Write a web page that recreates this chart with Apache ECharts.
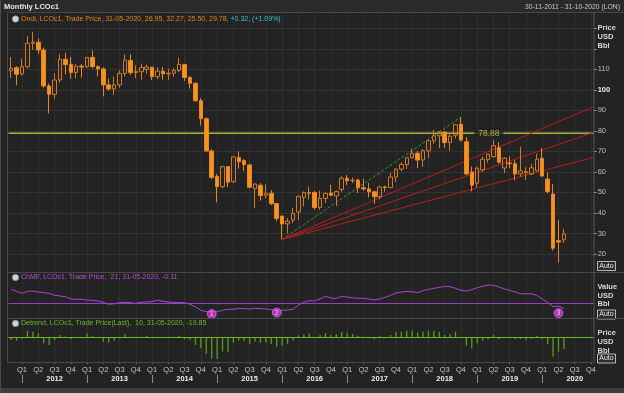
<!DOCTYPE html>
<html><head><meta charset="utf-8">
<script src="https://cdn.jsdelivr.net/npm/echarts@6/dist/echarts.min.js"></script>
<style>html,body{margin:0;padding:0;background:#232323;}#c{width:624px;height:393px;}</style>
</head><body><div id="c"></div>
<script>
// ---------- categories (monthly) ----------
const months = [
'2011-11','2011-12',
'2012-01','2012-02','2012-03','2012-04','2012-05','2012-06','2012-07','2012-08','2012-09','2012-10','2012-11','2012-12',
'2013-01','2013-02','2013-03','2013-04','2013-05','2013-06','2013-07','2013-08','2013-09','2013-10','2013-11','2013-12',
'2014-01','2014-02','2014-03','2014-04','2014-05','2014-06','2014-07','2014-08','2014-09','2014-10','2014-11','2014-12',
'2015-01','2015-02','2015-03','2015-04','2015-05','2015-06','2015-07','2015-08','2015-09','2015-10','2015-11','2015-12',
'2016-01','2016-02','2016-03','2016-04','2016-05','2016-06','2016-07','2016-08','2016-09','2016-10','2016-11','2016-12',
'2017-01','2017-02','2017-03','2017-04','2017-05','2017-06','2017-07','2017-08','2017-09','2017-10','2017-11','2017-12',
'2018-01','2018-02','2018-03','2018-04','2018-05','2018-06','2018-07','2018-08','2018-09','2018-10','2018-11','2018-12',
'2019-01','2019-02','2019-03','2019-04','2019-05','2019-06','2019-07','2019-08','2019-09','2019-10','2019-11','2019-12',
'2020-01','2020-02','2020-03','2020-04','2020-05','2020-06','2020-07','2020-08','2020-09','2020-10'];

// ---------- price OHLC (USD/bbl) ----------
const opens = [109.3,110.8,107.8,111.3,122.7,123.2,119.4,101.9,97.8,104.8,
114.9,112.4,108.5,111.6,111.3,115.8,111.3,110.2,102.4,100.4,
102.4,108.0,114.3,108.4,108.8,110.0,111.0,106.4,109.1,107.8,
108.1,109.4,112.4,106.0,103.2,94.7,85.9,70.2,57.8,52.8,
62.6,55.2,67.0,65.5,63.4,51.8,53.5,48.6,49.6,44.6,
38.5,34.7,36.5,40.5,47.6,49.4,50.0,42.7,47.1,49.7,
48.3,51.5,56.9,55.7,56.0,52.3,51.7,50.3,47.9,52.7,
52.4,57.5,61.4,63.6,66.9,69.1,65.8,70.3,75.2,77.6,
79.4,74.3,77.9,83.2,74.7,60.0,54.5,61.0,66.0,67.4,
71.8,61.9,64.3,64.0,59.0,59.5,59.0,60.5,66.6,56.5,
49.2,26.5,26.95];
const closes = [110.5,107.6,111.3,122.7,123.2,119.4,101.9,97.8,104.8,114.9,
112.3,108.5,111.6,111.1,115.8,111.3,110.2,102.4,100.4,102.4,
108.0,114.5,108.4,109.0,110.9,111.1,106.4,109.1,107.8,108.1,
109.4,112.4,106.0,103.2,94.7,85.9,70.2,57.3,52.8,62.5,
55.0,67.3,65.0,63.6,52.5,54.1,48.4,49.6,44.5,37.3,
34.6,36.0,39.7,48.1,49.9,50.0,42.6,47.1,49.5,48.6,
50.5,56.9,55.7,55.9,52.3,51.7,50.3,47.9,52.7,52.4,
57.5,61.4,63.6,66.9,69.1,65.8,70.3,75.2,77.6,79.4,
74.3,77.4,83.0,75.5,59.0,53.5,61.8,66.2,68.6,72.8,
64.7,66.7,64.0,59.0,60.5,60.2,62.0,66.2,58.0,50.4,
22.8,25.8,29.78];
const lows = [105.8,102.2,107.0,110.5,119.5,117.5,101.0,88.5,95.5,103.5,
107.5,105.5,105.6,106.0,110.5,110.5,106.5,96.8,99.5,97.5,
101.0,106.5,107.2,105.7,104.9,107.8,104.7,105.2,104.9,104.9,
106.4,108.6,104.3,100.6,94.2,82.6,69.8,56.5,45.2,52.0,
52.5,54.6,61.6,60.5,52.1,42.3,46.0,47.2,43.8,36.0,
27.1,30.0,35.0,36.6,43.1,46.6,41.6,41.5,44.9,48.3,
43.3,50.3,53.6,54.6,49.7,50.8,47.6,44.4,46.6,50.4,
52.1,55.1,60.3,61.4,66.6,61.8,62.5,66.8,73.7,71.6,
71.8,70.3,76.3,74.8,58.4,50.5,52.5,60.0,64.5,67.0,
64.0,59.5,61.8,55.9,57.7,56.2,58.5,60.2,57.7,49.5,
21.7,15.8,25.50];
const highs = [116.0,111.5,115.2,126.2,128.3,125.0,120.5,103.0,108.0,117.5,
118.0,116.0,112.5,112.5,116.0,119.2,111.8,111.0,105.5,106.5,
109.5,117.3,117.3,112.0,112.8,112.4,111.2,111.0,111.1,110.3,
110.6,115.7,112.6,106.8,103.5,95.9,86.6,71.0,59.0,63.0,
62.8,67.8,70.0,66.2,63.8,54.5,54.5,54.0,51.1,44.8,
38.8,37.5,42.5,48.5,50.5,52.9,50.5,50.9,49.9,53.7,
50.9,57.9,58.4,57.3,56.7,56.7,54.7,50.7,52.9,53.2,
59.5,61.7,64.7,67.3,71.3,70.2,71.1,75.5,80.5,79.9,
79.8,78.3,83.2,86.7,76.9,62.6,62.5,67.4,68.7,75.6,
74.5,67.0,67.6,65.7,72.3,62.3,64.0,68.9,71.6,59.8,
54.0,36.6,32.27];

// ---------- Chaikin Money Flow (21) ----------
const cmf = [0.286,0.245,0.204,0.245,0.251,0.231,0.217,0.204,0.163,0.149,
0.135,0.088,0.082,0.082,0.067,0.061,0.047,0.020,-0.020,-0.008,
0.012,0.020,0.014,0.000,0.020,0.027,0.034,0.067,0.041,0.027,
0.017,0.014,0.014,-0.020,-0.075,-0.143,-0.171,-0.171,-0.171,-0.143,
-0.122,-0.122,-0.106,-0.109,-0.116,-0.102,-0.109,-0.116,-0.129,-0.150,
-0.143,-0.136,-0.122,-0.040,0.027,0.054,0.047,0.091,0.143,0.108,
0.102,0.143,0.129,0.112,0.102,0.102,0.088,0.071,0.088,0.122,
0.163,0.210,0.231,0.241,0.238,0.217,0.258,0.286,0.306,0.327,
0.347,0.340,0.306,0.265,0.251,0.279,0.320,0.347,0.374,0.367,
0.333,0.296,0.265,0.231,0.196,0.193,0.196,0.163,0.088,0.020,
-0.069,-0.055,-0.11];
const cmfEvents = [['2014-12',-0.22,'1'],['2015-12',-0.19,'2'],['2020-04',-0.20,'3']];

// ---------- Detrend (10) ----------
const detrend = [-4.5,-5.7,-2.3,10.8,9.6,6.8,-10.2,-13.0,-4.5,4.0,
1.1,-2.8,-1.1,0.5,6.8,2.3,-0.6,-7.4,-9.1,-5.7,
-1.7,5.7,1.1,0.3,1.1,2.3,-1.1,0.6,0.3,0.6,
1.1,2.8,-2.8,-4.5,-13.0,-18.7,-28.0,-36.2,-36.8,-24.0,
-24.3,-9.1,-5.5,-6.0,-11.3,-7.0,-9.6,-8.5,-11.3,-15.8,
-14.5,-11.0,-5.2,3.2,4.8,6.5,0.3,4.0,6.8,4.0,
5.7,9.1,7.9,5.7,2.8,1.1,-1.7,-3.4,1.7,0.3,
4.0,8.5,9.6,11.3,11.3,7.9,9.6,11.3,11.3,9.6,
4.0,5.1,9.6,-0.8,-14.0,-18.7,-10.2,-5.7,-2.8,4.0,
-3.4,0.5,-0.5,-3.4,-2.8,-4.5,-2.8,2.3,-2.8,-11.3,
-32.8,-24.3,-19.85];

// ---------- drawings ----------
const hLevel = 78.88;
const hLevelLabelAt = '2019-03';
const fanLow = ['2016-01', 27.1];
const fanHigh = ['2018-10', 86.7];
const fanEdgeValues = [91.8, 79.3, 67.1];   // red fan lines at right edge
const priceTicks = [20,30,40,50,60,70,80,90,100,110];

// ---------- build ----------
const last = closes.length - 1;
const candles = opens.map((o,i)=>[o, closes[i], lows[i], highs[i]]);
const ix = m => months.indexOf(m);
const edgeX = months.length - 0.5;
const FONT = 'Liberation Sans';
const qi = i => i % 3 === 2;

const chart = echarts.init(document.getElementById('c'), null, {renderer:'canvas'});

const txt = (x,y,text,fill,size,weight,align) => ({type:'text', x:x, y:y, z:20,
  style:{text:text, fill:fill, font:(weight||'normal')+' '+size+'px "'+FONT+'"', align:align||'left', verticalAlign:'middle'}});
const hline = (x1,x2,y,c) => ({type:'line', z:15, shape:{x1:x1,y1:y,x2:x2,y2:y}, style:{stroke:c||'#474747', lineWidth:1}});
const vline = (x,y1,y2,c) => ({type:'line', z:15, shape:{x1:x,y1:y1,x2:x,y2:y2}, style:{stroke:c||'#474747', lineWidth:1}});
const autoBox = (y) => ({type:'group', z:12, children:[
  {type:'rect', shape:{x:597.5,y:y-4.5,width:18,height:9}, style:{fill:'#2c2c2c', stroke:'#b8b8b8', lineWidth:1}, z:12},
  {type:'text', x:606.5, y:y, z:13, style:{text:'Auto', fill:'#e6e6e6', font:'7px "'+FONT+'"', align:'center', verticalAlign:'middle'}}]});
const icon = (y) => ({type:'circle', z:16, shape:{cx:15.5, cy:y, r:3.2}, style:{fill:'#ccd6de', stroke:'#7d8a94', lineWidth:0.8}});

const f2 = v => v.toFixed(2);
const legendPrice = '{o|Ondl, LCOc1, Trade Price, 31-05-2020, ' + f2(opens[last]) + ', ' + f2(highs[last]) + ', ' + f2(lows[last]) + ', ' + f2(closes[last]) + ',}{t| +0.32, (+1.09%)}';
const legendCmf = 'ChMF, LCOc1, Trade Price,  21, 31-05-2020, ' + f2(cmf[last]);
const legendDet = 'Detrend, LCOc1, Trade Price(Last),  10, 31-05-2020, ' + f2(detrend[last]);

const tagLabel = (bg, fg, val) => ({show:true, position:'end', distance:1, formatter: ()=>val,
  backgroundColor:bg, color:fg, fontSize:8, fontWeight:'bold', fontFamily:FONT, padding:[1,3,0,3]});

const option = {
  backgroundColor:'#232323',
  animation:false,
  textStyle:{fontFamily:FONT},
  grid:[
    {left:8.5, right:30.3, top:28.26, height:225.72},
    {left:8.5, right:30.3, top:272, height:46},
    {left:8.5, right:30.3, top:318, height:44},
    {left:11.2, right:33, top:13, height:349},
    {left:11.2, right:33, top:300, height:75}
  ],
  xAxis:[
    {type:'category', gridIndex:0, data:months, boundaryGap:true, show:false},
    {type:'value', gridIndex:0, min:-0.5, max:edgeX, show:false, axisLine:{onZero:false}},
    {type:'category', gridIndex:1, data:months, boundaryGap:true, show:false},
    {type:'category', gridIndex:2, data:months, boundaryGap:true, show:false},
    {type:'category', gridIndex:3, data:months, boundaryGap:false,
      axisLine:{show:false, onZero:false},
      axisTick:{show:true, interval:qi, length:2, lineStyle:{color:'#6a6a6a'}},
      splitLine:{show:true, interval:qi, lineStyle:{color:'#2f2f2f', width:1}},
      axisLabel:{show:true, interval:qi, margin:3, color:'#c4c4c4', fontSize:7.5, fontFamily:FONT,
        verticalAlign:'top', lineHeight:9.5,
        formatter:(v)=>{ const m = +v.slice(5,7); const q = (m-1)/3+1;
          return q===3 ? 'Q3\n{yr|'+v.slice(0,4)+'}' : 'Q'+q; },
        rich:{yr:{fontWeight:'bold', color:'#ededed', fontSize:7.5, fontFamily:FONT, lineHeight:9.5}}}},
    {type:'category', gridIndex:4, data:months, boundaryGap:false,
      axisLine:{show:false, onZero:false}, axisLabel:{show:false}, splitLine:{show:false},
      axisTick:{show:true, interval:(i)=>i%12===2, length:8, lineStyle:{color:'#8c8c8c'}}}
  ],
  yAxis:[
    {type:'value', gridIndex:0, position:'right', min:20, max:130, interval:10,
      axisLine:{show:false, onZero:false},
      axisTick:{show:true, length:3, lineStyle:{color:'#9a9a9a'}},
      axisLabel:{show:true, margin:4, color:'#bdbdbd', fontSize:7.5, fontFamily:FONT,
        formatter:(v)=> priceTicks.indexOf(v) < 0 ? '' : (v===100 ? '{b|100}' : String(v)),
        rich:{b:{fontWeight:'bold', color:'#e4e4e4', fontSize:7.5, fontFamily:FONT}}},
      splitLine:{show:true, lineStyle:{color:'#343434', width:1}}},
    {type:'value', gridIndex:1, min:-0.3, max:0.64, show:false, axisLine:{onZero:false}},
    {type:'value', gridIndex:2, min:-41.9, max:32.8, show:false, axisLine:{onZero:false}},
    {type:'value', gridIndex:3, show:false, axisLine:{onZero:false}},
    {type:'value', gridIndex:4, show:false, axisLine:{onZero:false}}
  ],
  series:[
    {type:'candlestick', xAxisIndex:0, yAxisIndex:0, data:candles, barWidth:4, clip:false, z:5,
      itemStyle:{color:'rgba(0,0,0,0)', color0:'#f7921e', borderColor:'#d27a22', borderColor0:'#e6871f', borderWidth:1},
      markLine:{symbol:'none', silent:true, animation:false,
        data:[{yAxis:closes[last], lineStyle:{opacity:0}, label:tagLabel('#f39019','#1a1a1a', f2(closes[last]))}]}},
    {type:'line', xAxisIndex:1, yAxisIndex:0, data:[[-0.5,hLevel],[edgeX,hLevel]], symbol:'none', silent:true, z:3,
      lineStyle:{color:'#b0b03a', width:1.5}},
    {type:'scatter', xAxisIndex:1, yAxisIndex:0, data:[[ix(hLevelLabelAt)+0.15, hLevel]], symbolSize:0, silent:true, z:4,
      label:{show:true, position:'inside', formatter:()=>f2(hLevel), color:'#cccc52', fontSize:8.5, fontFamily:FONT,
        backgroundColor:'#232323', padding:[1,4,0,4]}},
    {type:'line', xAxisIndex:1, yAxisIndex:0, data:[[ix(fanLow[0]),fanLow[1]],[ix(fanHigh[0]),fanHigh[1]]], symbol:'none', silent:true, z:4,
      lineStyle:{color:'#2e9e2e', width:1, type:[3,2]}},
    ...fanEdgeValues.map(v => ({type:'line', xAxisIndex:1, yAxisIndex:0, data:[[ix(fanLow[0]),fanLow[1]],[edgeX,v]], symbol:'none', silent:true, z:4,
      lineStyle:{color:'#b81e1e', width:1}})),
    {type:'line', xAxisIndex:2, yAxisIndex:1, data:cmf, symbol:'none', silent:true, z:4,
      lineStyle:{color:'#a34ad0', width:1},
      markLine:{symbol:'none', silent:true, animation:false,
        data:[{yAxis:0, lineStyle:{color:'#9a3fc4', width:1, type:'solid'}, label:{show:false}},
              {yAxis:cmf[last], lineStyle:{opacity:0}, label:tagLabel('#e23be2','#3a003a', f2(cmf[last]))}]}},
    {type:'scatter', xAxisIndex:2, yAxisIndex:1, data:cmfEvents.map(e=>[e[0],e[1],e[2]]), symbolSize:9, silent:true, z:6,
      itemStyle:{color:'#d835dc', borderColor:'#f3a6f3', borderWidth:0.6},
      label:{show:true, position:'inside', formatter:(p)=>p.data[2], color:'#fbeafb', fontSize:7, fontFamily:FONT}},
    {type:'bar', xAxisIndex:3, yAxisIndex:2, data:detrend, barWidth:1.3, silent:true, z:4,
      itemStyle:{color:'#5b9b1c'},
      markLine:{symbol:'none', silent:true, animation:false,
        data:[{yAxis:0, lineStyle:{color:'#6eb52a', width:1, type:'solid'}, label:{show:false}},
              {yAxis:detrend[last], lineStyle:{opacity:0}, label:tagLabel('#7ccf1e','#ffffff', f2(detrend[last]))}]}}
  ],
  graphic:[
    {type:'rect', z:-5, shape:{x:0,y:0,width:624,height:12.5}, style:{fill:'#2a2a2a'}},
    {type:'rect', z:-5, shape:{x:0,y:388,width:624,height:5}, style:{fill:'#3d3d3d'}},
    vline(0.5, 0, 393, '#4a4a4a'),
    hline(7.5, 624, 12.5), hline(7.5, 624, 272.5), hline(7.5, 624, 318.5), hline(7.5, 594, 362.5),
    vline(7.5, 12.5, 362.5), vline(594, 12.5, 362.5, '#555555'),
    txt(4, 6.5, 'Monthly LCOc1', '#e8e8e8', 7.5, 'bold'),
    txt(620, 7, '30-11-2011 - 31-10-2020 (LON)', '#c8c8c8', 6.8, 'normal', 'right'),
    icon(19), icon(277.5), icon(323.5),
    {type:'text', x:21, y:19.5, z:20, style:{text:legendPrice, verticalAlign:'middle', font:'7px "'+FONT+'"',
      rich:{o:{fill:'#e8840f', font:'7px "'+FONT+'"'}, t:{fill:'#35c4c4', font:'7px "'+FONT+'"'}}}},
    txt(21, 277.5, legendCmf, '#bf48d6', 7),
    txt(21, 323.5, legendDet, '#6cb822', 7),
    txt(597.5, 28.3, 'Price', '#d8d8d8', 7.5, 'bold'),
    txt(597.5, 37.3, 'USD', '#d8d8d8', 7.5, 'bold'),
    txt(597.5, 46.3, 'Bbl', '#d8d8d8', 7.5, 'bold'),
    autoBox(266),
    txt(597.5, 286.7, 'Value', '#d8d8d8', 7.5, 'bold'),
    txt(597.5, 296, 'USD', '#d8d8d8', 7.5, 'bold'),
    txt(597.5, 303.5, 'Bbl', '#d8d8d8', 7.5, 'bold'),
    autoBox(314.5),
    txt(597.5, 332.7, 'Price', '#d8d8d8', 7.5, 'bold'),
    txt(597.5, 341.7, 'USD', '#d8d8d8', 7.5, 'bold'),
    txt(597.5, 351, 'Bbl', '#d8d8d8', 7.5, 'bold'),
    autoBox(358.5)
  ]
};
chart.setOption(option);
</script>
</body></html>
